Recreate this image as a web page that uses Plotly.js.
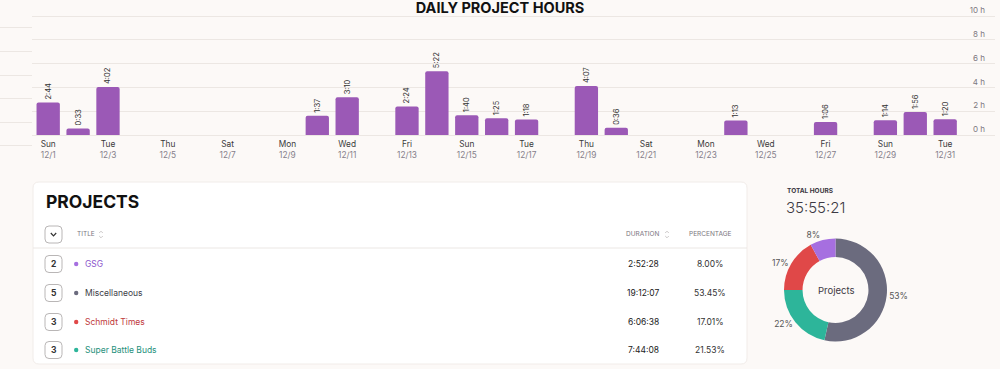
<!DOCTYPE html>
<html><head><meta charset="utf-8">
<script src="https://cdn.plot.ly/plotly-3.0.1.min.js"></script>
<style>html,body{margin:0;padding:0;background:#fcf9f7;} #chart{width:1000px;height:369px;}</style>
</head><body><div id="chart"></div>
<script>
// ---------- DATA ----------
const dates = ['2024-12-01','2024-12-02','2024-12-03','2024-12-04','2024-12-05','2024-12-06','2024-12-07','2024-12-08','2024-12-09','2024-12-10','2024-12-11','2024-12-12','2024-12-13','2024-12-14','2024-12-15','2024-12-16','2024-12-17','2024-12-18','2024-12-19','2024-12-20','2024-12-21','2024-12-22','2024-12-23','2024-12-24','2024-12-25','2024-12-26','2024-12-27','2024-12-28','2024-12-29','2024-12-30','2024-12-31'];
const dailyDurations = ['2:44','0:33','4:02','','','','','','','1:37','3:10','','2:24','5:22','1:40','1:25','1:18','','4:07','0:36','','','','1:13','','','1:06','','1:14','1:56','1:20'];
const tickDates = ['2024-12-01','2024-12-03','2024-12-05','2024-12-07','2024-12-09','2024-12-11','2024-12-13','2024-12-15','2024-12-17','2024-12-19','2024-12-21','2024-12-23','2024-12-25','2024-12-27','2024-12-29','2024-12-31'];
const tickWeekdays = ['Sun','Tue','Thu','Sat','Mon','Wed','Fri','Sun','Tue','Thu','Sat','Mon','Wed','Fri','Sun','Tue'];
const tickDayLabels = ['12/1','12/3','12/5','12/7','12/9','12/11','12/13','12/15','12/17','12/19','12/21','12/23','12/25','12/27','12/29','12/31'];
const hourTicks = [0,2,4,6,8,10];
const hourTickLabels = ['0 h','2 h','4 h','6 h','8 h','10 h'];

const projects = ['GSG','Miscellaneous','Schmidt Times','Super Battle Buds'];
const projectCounts = [2,5,3,3];
const projectDurations = ['2:52:28','19:12:07','6:06:38','7:44:08'];
const projectPercentages = ['8.00%','53.45%','17.01%','21.53%'];
const projectColors = ['#a66fe0','#6b6b7e','#e04848','#2db59a'];
const projectTextColors = ['#8a55cc','#3d3d48','#c0393b','#1f917c'];
const totalHours = '35:55:21';

// ---------- helpers ----------
const W = 1000, H = 369;
const X = px => px / W;
const Y = py => 1 - py / H;
const hoursOf = s => { if (!s) return 0; const p = s.split(':').map(Number); return p[0] + p[1]/60 + (p[2]||0)/3600; };
const secondsOf = s => { const p = s.split(':').map(Number); return p[0]*3600 + p[1]*60 + p[2]; };
function roundRect(x0,y0,x1,y1,r){
  return `M ${X(x0+r)},${Y(y0)} L ${X(x1-r)},${Y(y0)} Q ${X(x1)},${Y(y0)} ${X(x1)},${Y(y0+r)} `+
         `L ${X(x1)},${Y(y1-r)} Q ${X(x1)},${Y(y1)} ${X(x1-r)},${Y(y1)} L ${X(x0+r)},${Y(y1)} `+
         `Q ${X(x0)},${Y(y1)} ${X(x0)},${Y(y1-r)} L ${X(x0)},${Y(y0+r)} Q ${X(x0)},${Y(y0)} ${X(x0+r)},${Y(y0)} Z`;
}
function pathPx(pts){ return pts.map((p,i)=>(i?'L ':'M ')+X(p[0])+','+Y(p[1])).join(' '); }

const FONT = 'Inter, "Noto Sans", sans-serif';

// ---------- traces ----------
const barTrace = {
  type:'bar', x:dates, y:dailyDurations.map(hoursOf), text:dailyDurations,
  xaxis:'x', yaxis:'y',
  marker:{color:'#9b59b6', cornerradius:2},
  textposition:'outside', textangle:-90, constraintext:'none', cliponaxis:false,
  textfont:{size:7.5, color:'#333', family:FONT},
  hoverinfo:'x+text', showlegend:false
};
const ghostTrace = {type:'scatter', x:[], y:[], xaxis:'x2', yaxis:'y2', showlegend:false, hoverinfo:'skip'};
const labelAxisTrace = {type:'scatter', x:[], y:[], xaxis:'x', yaxis:'y3', showlegend:false, hoverinfo:'skip'};

const pieTrace = {
  type:'pie', labels:projects, values:projectDurations.map(secondsOf),
  marker:{colors:projectColors, line:{width:0}},
  hole:0.64, sort:true, direction:'clockwise', rotation:0,
  textposition:'outside', texttemplate:'%{percent:.0%}',
  textfont:{size:8.5, color:'#555', family:FONT},
  domain:{x:[X(784), X(887)], y:[Y(341.5), Y(238.5)]},
  showlegend:false, automargin:false, hoverinfo:'label+percent'
};

// ---------- table annotations & shapes ----------
const rowY = [264, 293, 322, 350];
const shapes = [];
const annotations = [];

shapes.push({type:'path', xref:'paper', yref:'paper', path:roundRect(33,182,747,364,6),
  fillcolor:'#ffffff', line:{color:'#f1ece9', width:1}, layer:'below'});
shapes.push({type:'line', xref:'paper', yref:'paper', x0:X(33), x1:X(747), y0:Y(248), y1:Y(248), line:{color:'#ebe7e4', width:1}});
shapes.push({type:'path', xref:'paper', yref:'paper', path:roundRect(45,226,62,243,4), fillcolor:'#fff', line:{color:'#b9b6b6', width:1}});
shapes.push({type:'path', xref:'paper', yref:'paper', path:pathPx([[50.8,233],[53.5,235.8],[56.2,233]]), line:{color:'#333', width:1.2}});
[[101,234.5],[667,234.5]].forEach(([cx,cy])=>{
  shapes.push({type:'path', xref:'paper', yref:'paper', path:pathPx([[cx-1.8,cy-1.5],[cx,cy-3.3],[cx+1.8,cy-1.5]]), line:{color:'#c4c0c0', width:0.9}});
  shapes.push({type:'path', xref:'paper', yref:'paper', path:pathPx([[cx-1.8,cy+1.5],[cx,cy+3.3],[cx+1.8,cy+1.5]]), line:{color:'#c4c0c0', width:0.9}});
});

annotations.push({xref:'paper', yref:'paper', x:X(44), y:Y(201), xanchor:'left', yanchor:'middle', showarrow:false,
  text:'<b>PROJECTS</b>', font:{family:FONT, size:17.5, color:'#111'}});
annotations.push({xref:'paper', yref:'paper', x:X(75), y:Y(234.5), xanchor:'left', yanchor:'middle', showarrow:false,
  text:'TITLE', font:{family:FONT, size:6.5, color:'#7b7680'}});
annotations.push({xref:'paper', yref:'paper', x:X(624), y:Y(234.5), xanchor:'left', yanchor:'middle', showarrow:false,
  text:'DURATION', font:{family:FONT, size:6.5, color:'#7b7680'}});
annotations.push({xref:'paper', yref:'paper', x:X(710), y:Y(234.5), xanchor:'center', yanchor:'middle', showarrow:false,
  text:'PERCENTAGE', font:{family:FONT, size:6.5, color:'#7b7680'}});

projects.forEach((name,i)=>{
  const yc = rowY[i];
  shapes.push({type:'path', xref:'paper', yref:'paper', path:roundRect(45,yc-8.5,62,yc+8.5,4), fillcolor:'#fff', line:{color:'#b9b6b6', width:1}});
  shapes.push({type:'circle', xref:'paper', yref:'paper', x0:X(74), x1:X(78.4), y0:Y(yc+2.2), y1:Y(yc-2.2), fillcolor:projectColors[i], line:{width:0}});
  annotations.push({xref:'paper', yref:'paper', x:X(53.5), y:Y(yc), xanchor:'center', yanchor:'middle', showarrow:false,
    text:'<b>'+projectCounts[i]+'</b>', font:{family:FONT, size:8.5, color:'#333'}});
  annotations.push({xref:'paper', yref:'paper', x:X(82.5), y:Y(yc), xanchor:'left', yanchor:'middle', showarrow:false,
    text:name, font:{family:FONT, size:8.5, color:projectTextColors[i]}});
  annotations.push({xref:'paper', yref:'paper', x:X(661), y:Y(yc), xanchor:'right', yanchor:'middle', showarrow:false,
    text:projectDurations[i], font:{family:FONT, size:8.5, color:'#222'}});
  annotations.push({xref:'paper', yref:'paper', x:X(710), y:Y(yc), xanchor:'center', yanchor:'middle', showarrow:false,
    text:projectPercentages[i], font:{family:FONT, size:8.5, color:'#333'}});
});

annotations.push({xref:'paper', yref:'paper', x:X(785), y:Y(190.5), xanchor:'left', yanchor:'middle', showarrow:false,
  text:'<b>TOTAL HOURS</b>', font:{family:FONT, size:6.5, color:'#3a3540'}});
annotations.push({xref:'paper', yref:'paper', x:X(784), y:Y(207), xanchor:'left', yanchor:'middle', showarrow:false,
  text:totalHours, font:{family:FONT, size:15, color:'#3d3a44', weight:300}});
annotations.push({xref:'paper', yref:'paper', x:X(836), y:Y(290), xanchor:'center', yanchor:'middle', showarrow:false,
  text:'Projects', font:{family:FONT, size:9.5, color:'#3d3a44'}});

const PXH = 11.9, PXH2 = 11.83, TOP = 11.3;
const layout = {
  width:W, height:H, margin:{l:0,r:0,t:0,b:0,pad:0},
  paper_bgcolor:'#fcf9f7', plot_bgcolor:'rgba(0,0,0,0)',
  font:{family:FONT},
  title:{text:'<b>DAILY PROJECT HOURS</b>', x:0.5, xanchor:'center', y:Y(8), yanchor:'middle',
         font:{family:FONT, size:14.5, color:'#111'}},
  bargap:0.22, showlegend:false,
  xaxis:{type:'date', domain:[X(32), X(995)], anchor:'y',
         range:['2024-11-30 11:00','2025-01-01 16:00'],
         tickvals:tickDates,
         ticktext:tickWeekdays.map((d,i)=>`<span style="color:#3a3a3a">${d}</span><br><span style="color:#85808a">${tickDayLabels[i]}</span>`),
         tickfont:{size:8.3, family:FONT}, ticklabelstandoff:2,
         showgrid:false, showline:false, zeroline:false, ticks:'', fixedrange:true},
  yaxis:{domain:[Y(135+0.1*PXH), Y(135-TOP*PXH)], anchor:'x', side:'right', range:[-0.1,TOP], tickvals:hourTicks,
         showticklabels:false, gridcolor:'#ece7e3', gridwidth:1, zeroline:false, showline:false, ticks:'', fixedrange:true},
  yaxis3:{overlaying:'y', anchor:'free', position:X(985), side:'left', range:[-0.1,TOP], tickvals:hourTicks, ticktext:hourTickLabels,
         ticklabelposition:'outside top', ticklabelstandoff:0, tickfont:{size:8, color:'#7d7880', family:FONT},
         showgrid:false, zeroline:false, showline:false, ticks:'', fixedrange:true},
  xaxis2:{domain:[0, X(32)], anchor:'y2', range:[0,1], showgrid:false, showticklabels:false, zeroline:false, showline:false, ticks:''},
  yaxis2:{domain:[Y(146+0.1*PXH2), Y(146-10.8*PXH2)], anchor:'x2', range:[-0.1,10.8], tickvals:hourTicks, showticklabels:false,
          gridcolor:'#ece7e3', zeroline:false, showline:false, ticks:''},
  shapes, annotations
};

Plotly.newPlot('chart', [ghostTrace, barTrace, labelAxisTrace, pieTrace], layout, {displayModeBar:false, staticPlot:true});
</script>
</body></html>
